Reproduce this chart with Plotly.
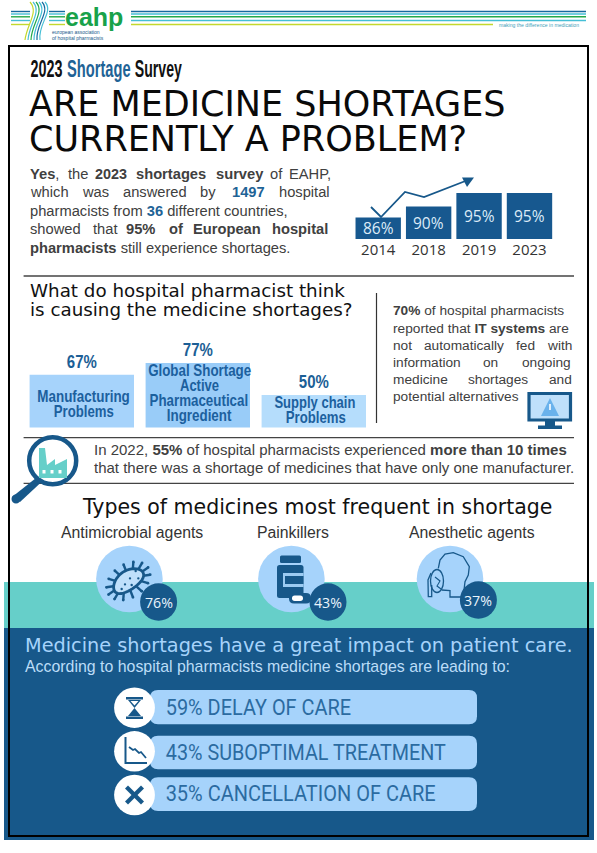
import json
import numpy as np
import plotly.graph_objects as go

# ---------- data ----------
trend_years = ["2014", "2018", "2019", "2023"]
trend_values = [86, 90, 95, 95]
cause_names = ["Manufacturing Problems", "Global Shortage Active Pharmaceutical Ingredient", "Supply chain Problems"]
cause_values = [67, 77, 50]
medicine_types = ["Antimicrobial agents", "Painkillers", "Anesthetic agents"]
medicine_values = [76, 43, 37]
impact_names = ["DELAY OF CARE", "SUBOPTIMAL TREATMENT", "CANCELLATION OF CARE"]
impact_values = [59, 43, 35]

W, H = 597, 853
NAVY = "#17588A"
LIGHT = "#A6D3FB"
TEAL = "#66CFC9"
TXT = "#404040"
ARIAL = "Liberation Sans"
DEJA = "DejaVu Sans"
OPEN = "Open Sans"
TREND_BASE = 78

shapes, notes = [], []
condensed = {}


def rect(x0, y0, x1, y1, fill, line=None, lw=0, layer="below"):
    shapes.append(dict(type="rect", xref="x", yref="y", x0=x0, y0=y0, x1=x1, y1=y1, fillcolor=fill,
                       line=dict(color=line or fill, width=lw), layer=layer))


def oval(cx, cy, rx, ry, fill, line=None, lw=0, layer="above"):
    shapes.append(dict(type="circle", xref="x", yref="y", x0=cx - rx, y0=cy - ry, x1=cx + rx, y1=cy + ry,
                       fillcolor=fill, line=dict(color=line or fill, width=lw), layer=layer))


def seg(x0, y0, x1, y1, color, lw=1.5, layer="below"):
    shapes.append(dict(type="line", xref="x", yref="y", x0=x0, y0=y0, x1=x1, y1=y1,
                       line=dict(color=color, width=lw), layer=layer))


def path(pts, fill=None, line=None, lw=0, close=True, layer="above"):
    d = "M" + " L".join(f"{a:.1f},{b:.1f}" for a, b in pts) + (" Z" if close else "")
    shapes.append(dict(type="path", xref="x", yref="y", path=d, fillcolor=fill or "rgba(0,0,0,0)",
                       line=dict(color=line or "rgba(0,0,0,0)", width=lw), layer=layer))


def rpill(x0, y0, x1, y1, r, fill, layer="below"):
    d = (f"M{x0+r},{y0} L{x1-r},{y0} Q{x1},{y0} {x1},{y0+r} L{x1},{y1-r} Q{x1},{y1} {x1-r},{y1} "
         f"L{x0+r},{y1} Q{x0},{y1} {x0},{y1-r} L{x0},{y0+r} Q{x0},{y0} {x0+r},{y0} Z")
    shapes.append(dict(type="path", xref="x", yref="y", path=d, fillcolor=fill, line=dict(width=0), layer=layer))


def text(x, y, s, size, color=TXT, font=ARIAL, anchor="left", xref="x", yref="y"):
    notes.append(dict(x=x, y=y, xref=xref, yref=yref, text=s, showarrow=False, xanchor=anchor, yanchor="middle",
                      borderpad=0, borderwidth=0, font=dict(size=size, color=color, family=font), align=anchor))


def narrow(cx, y, s, size, width, color, bold=True, font=ARIAL):
    """Centred text squeezed horizontally to a given width (no condensed font is installed)."""
    text(cx, y, f"<b>{s}</b>" if bold else s, size, color, font, anchor="center")
    condensed[s] = width


# ---------- backgrounds ----------
rect(4, 582, 594, 628, TEAL)
rect(4, 628, 594, 840, NAVY)
rect(9, 46, 588, 836, "rgba(0,0,0,0)", "#000000", 2, layer="above")

# ---------- logo ----------
LINES = [(11.5, "#17699F"), (14, "#45BFD6"), (16.8, "#22A84A"), (20.5, "#45BFD6"), (24.5, "#C4D82E")]
for y, c in LINES:
    seg(131, y, 586 if c != "#C4D82E" else 493, y, c, 1.6)
    seg(11, y, 30, y, c, 1.4)
    seg(49, y, 65, y, c, 1.4)
for i, c in enumerate(["#C4D82E", "#45BFD6", "#22A84A", "#45BFD6", "#17699F", "#45BFD6"]):
    dx = i * 3.0
    shapes.append(dict(type="path", xref="x", yref="y", layer="below",
                       path=f"M{30+dx},2 C{39+dx},12 {27+dx*0.7},24 {25+dx},40",
                       line=dict(color=c, width=1.2)))
text(65, 16.5, "<b>eahp</b>", 25, "#18A24A")
text(52, 32, "european association", 5, NAVY)
text(52, 38, "of hospital pharmacists", 5, NAVY)
text(499, 25, "making the difference in medication", 5.1, "#3FA0B8")

# ---------- title block ----------
narrow(46, 69, "2023", 23, 32, "#111111")
narrow(98.5, 69, "Shortage", 23, 63.5, "#1F6396")
narrow(158.7, 69, "Survey", 23, 47, "#111111")
text(29, 104, "ARE MEDICINE SHORTAGES", 35, "#0A0A0A", DEJA)
text(29, 139, "CURRENTLY A PROBLEM?", 35, "#0A0A0A", DEJA)

BL = "color:#1F6396"
para = [
    (174, [(30, "<b>Yes</b>,"), (68, "the"), (95, "<b>2023</b>"), (136, "<b>shortages</b>"), (215.5, "<b>survey</b>"), (269.5, "of"), (289, "EAHP,")]),
    (192, [(30, "which"), (82, "was"), (123, "answered"), (199.5, "by"), (231.5, f'<b><span style="{BL}">1497</span></b>'), (279, "hospital")]),
    (211, [(30, f'pharmacists from <b><span style="{BL}">36</span></b> different countries,')]),
    (229, [(30, "showed"), (92.5, "that"), (126, "<b>95%</b>"), (168.6, "<b>of</b>"), (192.6, "<b>European</b>"), (272, "<b>hospital</b>")]),
    (248, [(30, "<b>pharmacists</b> still experience shortages.")]),
]
for y, parts in para:
    for x, s in parts:
        text(x, y, s, 14.7)

# trend arrow (decoration above the bars)
path([(371, 207), (381, 217), (405, 192), (424, 197), (468, 180)], line=NAVY, lw=1.8, close=False)
path([(474, 177.5), (462, 177.5), (467, 187)], fill=NAVY)

seg(23.6, 276, 574, 276, "#444444", 1.3)

# ---------- causes ----------
text(30, 290, "What do hospital pharmacist think", 18.3, "#111111", DEJA)
text(30, 309, "is causing the medicine shortages?", 18.3, "#111111", DEJA)
seg(376.5, 293, 376.5, 423, "#333333", 1.2)

BAR_TXT = "#1C609E"
narrow(83, 396.7, "Manufacturing", 17, 92.5, BAR_TXT)
narrow(83, 411.5, "Problems", 17, 60, BAR_TXT)
narrow(199, 370.7, "Global Shortage", 17, 103, BAR_TXT)
narrow(199, 385.7, "Active", 17, 39, BAR_TXT)
narrow(199, 400.7, "Pharmaceutical", 17, 98.6, BAR_TXT)
narrow(199, 415.7, "Ingredient", 17, 64.7, BAR_TXT)
narrow(315, 402.7, "Supply chain", 17, 81, BAR_TXT)
narrow(315, 417.7, "Problems", 17, 60, BAR_TXT)

it = [
    (310.7, [(393, "<b>70%</b> of hospital pharmacists")]),
    (328, [(393, "reported that <b>IT systems</b> are")]),
    (345, [(393, "not"), (424.4, "automatically"), (516, "fed"), (547, "with")]),
    (362, [(393, "information"), (483.4, "on"), (522, "ongoing")]),
    (379, [(393, "medicine"), (468, "shortages"), (548.5, "and")]),
    (396.7, [(393, "potential alternatives")]),
]
for y, parts in it:
    for x, s in parts:
        text(x, y, s, 13.7)

# monitor icon
rect(529, 393.5, 570.5, 420, "#BFE0FB", NAVY, 3.2, layer="above")
path([(550, 398), (559, 416), (541, 416)], fill="#6AB2EC")
seg(550, 404, 550, 410, "#FFFFFF", 1.6, layer="above")
rect(545, 421, 555, 426, NAVY, layer="above")
rect(538, 425.5, 562, 429, NAVY, layer="above")

seg(23.6, 437.7, 574, 437.7, "#444444", 1.3)
seg(23.6, 483.3, 574, 483.3, "#444444", 1.3)
text(94.4, 449.3, "In 2022, <b>55%</b> of hospital pharmacists experienced <b>more than 10 times</b>", 15)
text(94.4, 467.7, "that there was a shortage of medicines that have only one manufacturer.", 15)

# magnifier + factory
path([(36, 478), (41.5, 482), (20, 502), (12, 497)], fill=NAVY)
oval(16, 499, 4.5, 4.5, NAVY)
oval(52.7, 460.7, 23.5, 23.5, "#FFFFFF", NAVY, 4.5)
path([(39, 478), (39, 448), (45, 448), (47, 465), (55, 459), (55, 465), (67, 459), (67, 478)], fill=TEAL)
for bx in (44, 52, 60):
    rect(bx - 1.5, 470, bx + 1.5, 473.5, "#FFFFFF", layer="above")

# ---------- medicine types ----------
text(316.5, 507, "Types of medicines most frequent in shortage", 20.5, "#111111", DEJA, anchor="center")
centers = [(129.4, 579), (291.4, 579), (450, 579)]
badges = [(158.6, 602), (328, 602), (478.4, 600)]
label_x = [132, 293, 472]
for i, name in enumerate(medicine_types):
    text(label_x[i], 532.3, name, 15.8, "#333333", anchor="center")
    oval(*centers[i], 33.3, 33.3, LIGHT, layer="below")

# bacterium
t = np.linspace(0, 2 * np.pi, 40)
ang = -0.6
bx, by = 128.3, 581


def rot(ex, ey):
    return bx + ex * np.cos(ang) - ey * np.sin(ang), by + ex * np.sin(ang) + ey * np.cos(ang)


for a in np.linspace(0, 2 * np.pi, 15)[:-1]:
    x0, y0 = rot(17 * np.cos(a), 9.5 * np.sin(a))
    x1, y1 = rot(24 * np.cos(a), 16.5 * np.sin(a))
    seg(x0, y0, x1, y1, NAVY, 2.4, layer="above")
    oval(x1, y1, 1.4, 1.4, NAVY)
path([rot(17 * np.cos(a), 9.5 * np.sin(a) + 1.6 * np.cos(a) ** 2 - 0.8) for a in t], fill="#BFE0FB", line=NAVY, lw=2.8)
for zx, zy in [(122, 78), (105, 100), (130, 100), (90, 118), (110, 120), (80, 132)]:
    oval(95 + zx / 3, 545 + zy / 3, 1.2, 1.2, NAVY)

# pill bottle
rpill(280, 555.5, 301, 563, 1.5, NAVY, layer="above")
rpill(277, 565, 303.5, 598, 2.5, NAVY, layer="above")
rect(283, 573, 303.5, 587, "#9CCBF2", layer="above")
rect(285, 576, 303.5, 584, NAVY, layer="above")
rpill(289, 593, 311, 603.5, 5, NAVY, layer="above")
rpill(292, 595.5, 303, 601, 2.7, "#FFFFFF", layer="above")

# head in profile
path([(438.3, 568.3), (440, 560), (445, 554), (453.3, 552.7), (463.3, 556.7), (469.3, 566.7), (468.3, 575), (465, 581.7),
      (464, 590), (462, 597), (450, 597), (450, 590.7), (441.7, 590)], line=NAVY, lw=1.3, close=False)
oval(437, 581, 6.5, 11.5, "rgba(0,0,0,0)", NAVY, 1.3)
path([(431, 573), (428, 580), (428.3, 596.7), (431.7, 596.7), (431.7, 585)], line=NAVY, lw=1.3, close=False)
path([(435, 577), (440, 581), (437, 586), (441, 589)], line=NAVY, lw=1.1, close=False)

for i, v in enumerate(medicine_values):
    bcx, bcy = badges[i]
    oval(bcx, bcy, 18.5, 18.7, NAVY)
    text(bcx, bcy + 0.5, f"{v}%", 14.2, "#EAF4FD", OPEN, anchor="center")

# ---------- impact ----------
text(24.7, 645, "Medicine shortages have a great impact on patient care.", 19.3, LIGHT, DEJA)
text(24.7, 666.7, "According to hospital pharmacists medicine shortages are leading to:", 15.9, "#BCDDF8")
pills = [(690, 724.3), (735.7, 769.3), (777.3, 811)]
cy = [707.7, 751.3, 795]
ty = [707.5, 752.5, 793.5]
tw = [185.4, 280, 270]
for i, (y0, y1) in enumerate(pills):
    rpill(150, y0, 477, y1, 8, LIGHT)
    oval(134.5, cy[i], 20.4, 20.2, "#FFFFFF", layer="below")
    narrow(165.6 + tw[i] / 2, ty[i], f"{impact_values[i]}% {impact_names[i]}", 22, tw[i], "#2B6BA1", bold=False, font="Roboto")

# hourglass
rect(126, 697, 143, 699.5, NAVY, layer="above")
rect(126, 716.5, 143, 719, NAVY, layer="above")
path([(128, 700), (141, 700), (134.5, 708), (141, 716), (128, 716), (134.5, 708)], fill=NAVY)
path([(130.5, 701), (138.5, 701), (134.5, 705.5)], fill="#FFFFFF")
# falling chart
path([(125.5, 737), (125.5, 763), (147, 763)], line=NAVY, lw=2, close=False)
path([(129, 747), (133, 750), (135, 749), (139, 753), (141, 752), (146, 758)], line=NAVY, lw=1.8, close=False)
# cross
seg(126.5, 787, 142.5, 803, NAVY, 4.2, layer="above")
seg(142.5, 787, 126.5, 803, NAVY, 4.2, layer="above")

# value labels of the trend bars, placed through that chart's own axes (category index)
for i, v in enumerate(trend_values):
    text(i, (TREND_BASE + v) / 2, f"{v}%", 15.5, "#DCEBF8", OPEN, anchor="center", xref="x2", yref="y2")

# ---------- figure ----------
fig = go.Figure()
fig.add_trace(go.Bar(
    x=trend_years, y=trend_values, xaxis="x2", yaxis="y2", marker=dict(color="#17588F", line=dict(width=0)),
    showlegend=False, hoverinfo="skip"))
fig.add_trace(go.Bar(
    x=cause_names, y=cause_values, xaxis="x3", yaxis="y3",
    marker=dict(color=["#A6D3FB", "#99CCF8", "#B5DDFC"], line=dict(width=0)),
    text=[f"{v}%" for v in cause_values], textposition="outside", cliponaxis=False, textangle=0,
    textfont=dict(family=ARIAL, size=18, color="#1C5F96", weight="bold"), showlegend=False, hoverinfo="skip"))
for v in cause_values:
    condensed[f"{v}%"] = 30

hidden = dict(visible=False, fixedrange=True)
fig.update_layout(
    width=W, height=H, margin=dict(l=0, r=0, t=0, b=0, autoexpand=False), paper_bgcolor="#FFFFFF", plot_bgcolor="rgba(0,0,0,0)",
    bargap=0.1, showlegend=False, shapes=shapes, annotations=notes,
    xaxis=dict(range=[0, W], domain=[0, 1], **hidden),
    yaxis=dict(range=[H, 0], domain=[0, 1], **hidden),
    xaxis2=dict(domain=[353 / W, 554.7 / W], anchor="y2", type="category", range=[-0.5, 3.5], showline=False, ticks="", fixedrange=True,
                tickfont=dict(family=OPEN, size=15, color="#333333")),
    yaxis2=dict(domain=[1 - 239 / H, 1 - 179.6 / H], range=[TREND_BASE, 100], anchor="x2", **hidden),
    xaxis3=dict(domain=[23.8 / W, 371.8 / W], anchor="y3", type="category", range=[-0.5, 2.5], **hidden),
    yaxis3=dict(domain=[1 - 427.5 / H, 1 - 347.5 / H], range=[22.65, 90], anchor="x3", **hidden),
)
post = ("document.body.style.margin='0';document.body.style.overflow='hidden';"
        "const L=" + json.dumps(condensed) + ";"
        "document.querySelectorAll('.annotation-text, .bartext').forEach(t=>{const k=t.textContent.trim();"
        "if(L[k]){t.setAttribute('textLength',L[k]);t.setAttribute('lengthAdjust','spacingAndGlyphs');}});")
fig.write_html("out.html", post_script=post, config={"displayModeBar": False})
